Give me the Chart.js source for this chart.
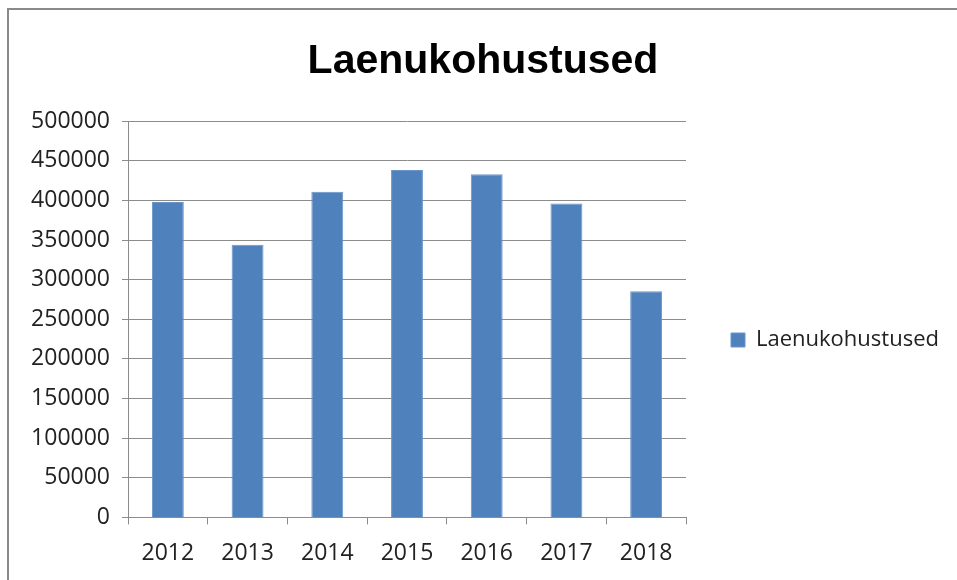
<!DOCTYPE html>
<html>
<head>
<meta charset="utf-8">
<script src="https://cdn.jsdelivr.net/npm/chart.js@4"></script>
<style>
  html, body { margin: 0; padding: 0; background: #fff; overflow: hidden; }
  /* chart frame: only left and top edges are visible in the window */
  #frame {
    position: absolute; left: 7px; top: 8px;
    width: 960px; height: 580px;
    border-left: 2px solid #8a8a8a; border-top: 2px solid #8a8a8a;
  }
  #wrap { position: absolute; left: 0; top: 0; width: 948px; height: 570px; }
</style>
</head>
<body>
<div id="frame"><div id="wrap"><canvas id="chart"></canvas></div></div>
<script>
/* ── DATA ───────────────────────────────────────────── */
const years = ['2012', '2013', '2014', '2015', '2016', '2017', '2018'];
const loanValues = [398000, 344000, 411000, 438500, 433000, 396000, 285500];
const seriesName = 'Laenukohustused';
const yTicks = { min: 0, max: 500000, step: 50000 };

const gridGray = '#8c8c8c';
const textColor = '#222';
const tickFont = { family: 'Open Sans', size: 23 };
const legendWidth = 271;

// give the side legend a fixed width so the plot ends where the original does
const legendWidthPlugin = {
  id: 'legendWidth',
  afterInit(chart) {
    const lg = chart.legend;
    if (!lg) return;
    const fit = lg.fit;
    lg.fit = function() { fit.call(this); this.width = legendWidth; };
  },
};

new Chart(document.getElementById('chart'), {
  type: 'bar',
  data: {
    labels: years,
    datasets: [{
      label: seriesName,
      data: loanValues,
      backgroundColor: '#4f81bd',
      borderColor: '#6a95c8',
      borderWidth: 1,
      categoryPercentage: 1.0,
      barPercentage: 0.4,
    }],
  },
  plugins: [legendWidthPlugin],
  options: {
    responsive: true,
    maintainAspectRatio: false,
    animation: false,
    layout: { padding: { left: 0, right: 0, top: 0, bottom: -2 } },
    plugins: {
      title: {
        display: true,
        text: seriesName,
        color: '#000',
        font: { family: 'Liberation Sans', size: 41, weight: 'bold' },
        padding: { top: 27, bottom: 35 },
      },
      legend: {
        position: 'right',
        align: 'start',
        title: { display: true, text: ' ', font: { size: 10 }, padding: { top: 262, bottom: 0 } },
        labels: {
          color: textColor,
          font: { family: 'Open Sans', size: 22 },
          boxWidth: 14,
          boxHeight: 14,
          padding: 45,
        },
      },
      tooltip: { enabled: false },
    },
    scales: {
      x: {
        grid: { display: true, drawOnChartArea: false, tickLength: 7, color: gridGray, offset: true },
        border: { display: true, color: gridGray },
        ticks: { color: textColor, font: tickFont, padding: 15 },
      },
      y: {
        min: yTicks.min,
        max: yTicks.max,
        grid: { color: gridGray, tickLength: 6 },
        border: { display: true, color: gridGray },
        ticks: { stepSize: yTicks.step, color: textColor, font: tickFont, padding: 12,
                 callback: v => String(v) },
        afterFit: s => { s.width = 119; },
      },
    },
  },
});
</script>
</body>
</html>
